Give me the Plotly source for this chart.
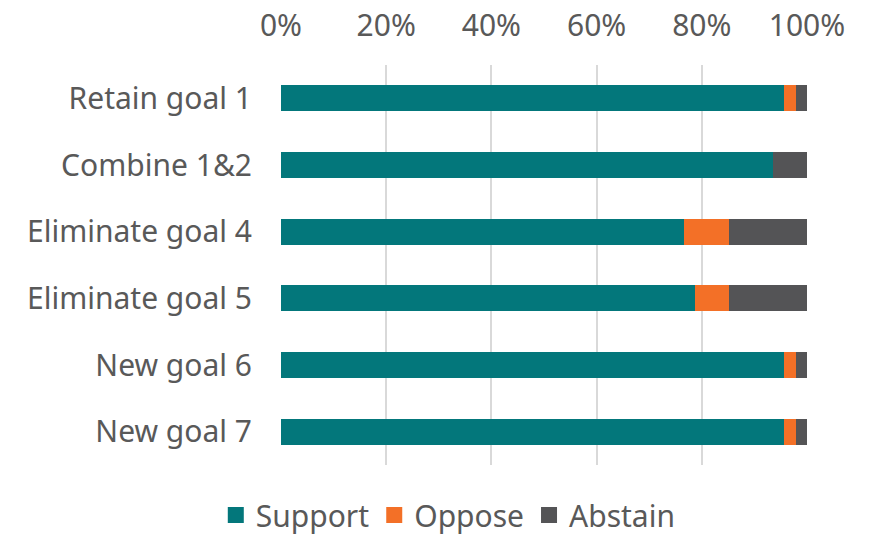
import plotly.graph_objects as go

categories = ["Retain goal 1", "Combine 1&2", "Eliminate goal 4", "Eliminate goal 5", "New goal 6", "New goal 7"]
support = [95.7, 93.6, 76.6, 78.7, 95.7, 95.7]
oppose = [2.15, 0.0, 8.5, 6.4, 2.15, 2.15]
abstain = [2.15, 6.4, 14.9, 14.9, 2.15, 2.15]
tick_vals = [0, 20, 40, 60, 80, 100]
tick_text = ["0%", "20%", "40%", "60%", "80%", "100%"]

colors = {"Support": "#03777B", "Oppose": "#F37027", "Abstain": "#545456"}
series = [("Support", support), ("Oppose", oppose), ("Abstain", abstain)]

fig = go.Figure()
for name, vals in series:
    fig.add_trace(go.Bar(y=categories, x=vals, name=name, orientation="h", showlegend=False,
                         marker=dict(color=colors[name], line=dict(width=0))))
# legend entries with larger square swatches
for name, _ in series:
    fig.add_trace(go.Scatter(x=[None], y=[None], mode="markers", name=name,
                             marker=dict(symbol="square", size=18, color=colors[name])))

font_family = "Noto Sans"
fs = 30
fig.update_layout(
    barmode="stack",
    bargap=0.61,
    width=879, height=541,
    margin=dict(l=281, r=72, t=65, b=76, autoexpand=False),
    plot_bgcolor="white", paper_bgcolor="white",
    font=dict(family=font_family, size=fs, color="#595959"),
    xaxis=dict(side="top", range=[0, 100], tickvals=tick_vals, ticktext=tick_text,
               showgrid=True, gridcolor="#D9D9D9", gridwidth=2, zeroline=False,
               ticks="", ticklen=0, ticklabelstandoff=22,
               tickfont=dict(size=fs, color="#595959")),
    yaxis=dict(autorange="reversed", ticks="", showgrid=False, ticklabelstandoff=28,
               tickfont=dict(size=fs, color="#595959")),
    legend=dict(orientation="h", x=0.51, xanchor="center", xref="container",
                y=0.0, yanchor="bottom", yref="container", itemwidth=30,
                font=dict(size=fs, color="#595959"), traceorder="normal"),
    showlegend=True,
)
fig.write_html("out.html")
